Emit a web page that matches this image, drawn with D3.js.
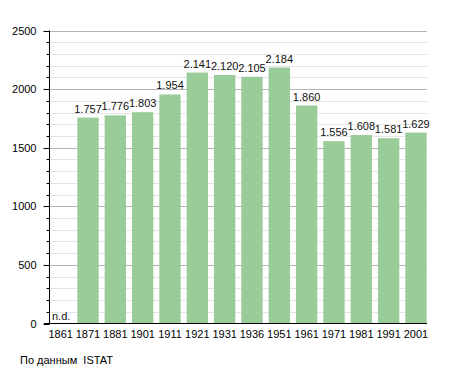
<!DOCTYPE html>
<html>
<head>
<meta charset="utf-8">
<script src="https://cdn.jsdelivr.net/npm/d3@7"></script>
<style>
  body { margin: 0; background: #fff; }
  text { font-family: "Liberation Sans", Arial, sans-serif; }
</style>
</head>
<body>
<svg id="chart" width="455" height="373"></svg>
<script>
// census years and population (1861 has no data)
var years = ["1861","1871","1881","1901","1911","1921","1931","1936","1951","1961","1971","1981","1991","2001"]
var population = [null,1757,1776,1803,1954,2141,2120,2105,2184,1860,1556,1608,1581,1629]
var yTicks = [0,500,1000,1500,2000,2500]
var sourceText = "По данным  ISTAT"

var svg = d3.select("#chart")

var plotLeft = 50, plotRight = 427, plotTop = 30.5, plotBottom = 323.5

var x = d3.scaleBand()
  .domain(years)
  .range([plotLeft, plotLeft + 27.33 * years.length])
  .padding(0)

var y = d3.scaleLinear().domain([0, 2500]).range([plotBottom, plotTop])

var fmt = d3.formatLocale({decimal: ",", thousands: ".", grouping: [3], currency: ["", ""]}).format(",d")

var step = x.step()
var bw = step - 6

//minor grid every 100
svg.append("g").selectAll("line")
  .data(d3.range(100, 2600, 100).filter(function(d){ return d % 500 != 0 }))
  .enter().append("line")
  .attr("x1", plotLeft).attr("x2", plotRight)
  .attr("y1", function(d){ return Math.round(y(d)) + 0.5 }).attr("y2", function(d){ return Math.round(y(d)) + 0.5 })
  .attr("stroke", "#e4e4e4").attr("stroke-width", 1)

//major grid
svg.append("g").selectAll("line")
  .data(yTicks.filter(function(d){ return d > 0 }))
  .enter().append("line")
  .attr("x1", plotLeft).attr("x2", plotRight)
  .attr("y1", function(d){ return Math.round(y(d)) + 0.5 }).attr("y2", function(d){ return Math.round(y(d)) + 0.5 })
  .attr("stroke", "#b4b4b4").attr("stroke-width", 1)

//bars
var data = years.map(function(d, i){ return {year: d, value: population[i]} })

svg.append("g").selectAll("rect")
  .data(data.filter(function(d){ return d.value != null }))
  .enter().append("rect")
  .attr("x", function(d){ return x(d.year) })
  .attr("width", bw)
  .attr("y", function(d){ return y(d.value) })
  .attr("height", function(d){ return plotBottom - y(d.value) })
  .attr("fill", "#99cc99")

//value labels
svg.append("g").selectAll("text")
  .data(data)
  .enter().append("text")
  .attr("x", function(d){ return d.value == null ? plotLeft + 2 : x(d.year) + bw / 2 })
  .attr("y", function(d){ return d.value == null ? plotBottom - 4 : y(d.value) - 5 })
  .attr("text-anchor", function(d){ return d.value == null ? "start" : "middle" })
  .attr("font-size", "11px")
  .attr("fill", "#111")
  .text(function(d){ return d.value == null ? "n.d." : fmt(d.value) })

//y axis with minor ticks
var yAxis = svg.append("g").attr("transform", "translate(" + (plotLeft - 0.5) + ",0)")
yAxis.append("line").attr("x1", 0).attr("x2", 0).attr("y1", plotTop).attr("y2", plotBottom + 1).attr("stroke", "#000")
yAxis.selectAll("line.tick")
  .data(d3.range(0, 2600, 100))
  .enter().append("line").attr("class", "tick")
  .attr("x1", function(d){ return d % 500 == 0 ? -6 : -3 }).attr("x2", 0)
  .attr("y1", function(d){ return Math.round(y(d)) + 0.5 }).attr("y2", function(d){ return Math.round(y(d)) + 0.5 })
  .attr("stroke", "#000")
yAxis.selectAll("text")
  .data(yTicks)
  .enter().append("text")
  .attr("x", -13).attr("y", function(d){ return y(d) + 4 })
  .attr("text-anchor", "end")
  .attr("font-size", "11px")
  .text(function(d){ return d })

//x axis
svg.append("line").attr("x1", plotLeft - 6).attr("x2", plotRight).attr("y1", plotBottom).attr("y2", plotBottom).attr("stroke", "#000")
svg.append("g").selectAll("text")
  .data(years)
  .enter().append("text")
  .attr("x", function(d){ return x(d) + bw / 2 })
  .attr("y", plotBottom + 14)
  .attr("text-anchor", "middle")
  .attr("font-size", "11px")
  .text(function(d){ return d })

svg.append("text")
  .attr("x", 20).attr("y", 364)
  .attr("font-size", "11px")
  .attr("xml:space", "preserve")
  .style("white-space", "pre")
  .text(sourceText)
</script>
</body>
</html>
